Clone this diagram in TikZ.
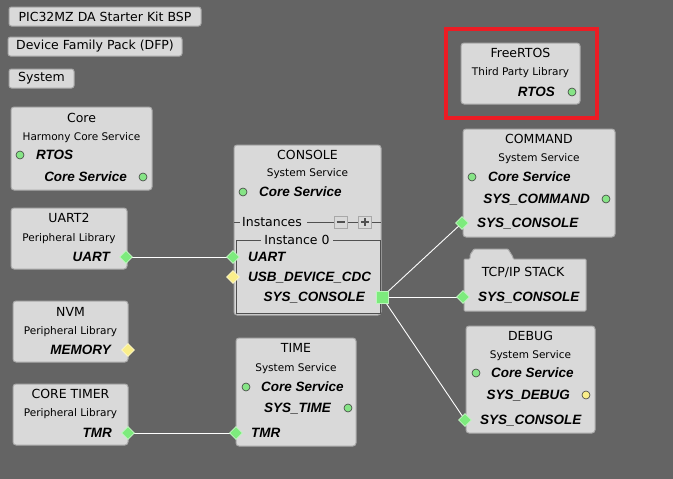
\documentclass[tikz,border=0pt]{standalone}
\usepackage{fontspec}
\setmainfont{DejaVu Sans}
\newfontfamily\portfont{Liberation Sans}
\usetikzlibrary{shapes.geometric}
\pgfdeclarelayer{back}
\pgfdeclarelayer{wires}
\pgfsetlayers{back,wires,main}
\definecolor{bgc}{HTML}{646464}
\definecolor{boxfill}{HTML}{D9D9D9}
\definecolor{boxline}{HTML}{A8A8A8}
\definecolor{pgreen}{HTML}{7DEB7D}
\definecolor{dgreen}{HTML}{86E486}
\definecolor{pyellow}{HTML}{FAEE8A}
\definecolor{redframe}{HTML}{EC1C24}
\definecolor{innerline}{HTML}{505050}
\tikzset{
  box/.style={draw=boxline, fill=boxfill, rounded corners=3pt, line width=1pt, inner sep=0pt},
  btn/.style={draw=boxline, fill=boxfill, rounded corners=2.5pt, line width=1pt, inner sep=0pt,
              font=\fontsize{12.5}{14}\selectfont},
  ttl/.style={font=\fontsize{12.5}{14}\selectfont, inner sep=0pt, text height=9.1pt, text depth=0pt},
  sub/.style={font=\fontsize{10.5}{12}\selectfont, inner sep=0pt, text height=7.6pt, text depth=0pt},
  port/.style={font=\portfont\bfseries\itshape\fontsize{13.5}{15}\selectfont, inner sep=0pt, text height=9.7pt, text depth=0pt},
  gdia/.style={diamond, minimum width=13pt, minimum height=13pt, inner sep=0pt, fill=pgreen, draw=white!55!pgreen, line width=0.6pt},
  ydia/.style={diamond, minimum width=13pt, minimum height=13pt, inner sep=0pt, fill=pyellow, draw=white!55!pyellow, line width=0.6pt},
  gdot/.style={circle, minimum size=8pt, inner sep=0pt, fill=dgreen, draw=black!75, line width=0.6pt},
  ydot/.style={circle, minimum size=8pt, inner sep=0pt, fill=pyellow, draw=black!75, line width=0.6pt},
  wire/.style={draw=white, line width=0.9pt},
}
\newcommand\mybox[5]{\node[box, minimum width={#4-#2}, minimum height={#5-#3}] (#1) at ({(#2+#4)/2},{(#3+#5)/2}) {};}
\begin{document}
\begin{tikzpicture}[x=1pt,y=-1pt]
\begin{pgfonlayer}{back}
\fill[bgc] (0,0) rectangle (673,479);
\end{pgfonlayer}
\useasboundingbox (0,0) rectangle (673,479);

% top buttons
\node[btn, minimum width=192, minimum height=19] (bsp) at (105,16.5) {PIC32MZ DA Starter Kit BSP};
\node[btn, minimum width=174, minimum height=19] (dfp) at (95,46.5) {Device Family Pack (DFP)};
\node[btn, minimum width=65, minimum height=19] (sys) at (41.5,78.5) {System};

% Core
\mybox{core}{11}{107}{152}{190}
\node[ttl] (coret) at (81.5,118) {Core};
\node[sub] (cores) at (81.5,137) {Harmony Core Service};
\node[gdot] (corertosd) at (20,155) {};
\node[port, anchor=west] (corertos) at (36,155) {RTOS};
\node[port, anchor=east] (corecs) at (127,177) {Core Service};
\node[gdot] (corecsd) at (143,177) {};

% UART2
\mybox{uart}{11}{208}{127}{269}
\node[ttl] (uartt) at (69,218) {UART2};
\node[sub] (uarts) at (69,238) {Peripheral Library};
\node[port, anchor=east] (uartl) at (110,257) {UART};
\node[gdia] (uartp) at (126,257) {};

% NVM
\mybox{nvm}{13}{301}{128}{362}
\node[ttl] (nvmt) at (70.5,312) {NVM};
\node[sub] (nvms) at (70.5,331) {Peripheral Library};
\node[port, anchor=east] (nvml) at (111,350) {MEMORY};
\node[ydia] (nvmp) at (128,350) {};

% CORE TIMER
\mybox{tmr}{13}{384}{128}{445}
\node[ttl] (tmrt) at (70.5,394) {CORE TIMER};
\node[sub] (tmrs) at (70.5,413) {Peripheral Library};
\node[port, anchor=east] (tmrl) at (112,433) {TMR};
\node[gdia] (tmrp) at (128,433) {};

% CONSOLE
\mybox{con}{234}{145}{381}{315}
\node[ttl] (cont) at (307.5,155) {CONSOLE};
\node[sub] (cons) at (307.5,173) {System Service};
\node[gdot] (concsd) at (243,192) {};
\node[port, anchor=west] (concs) at (259,192) {Core Service};
\draw[innerline, line width=0.8pt] (234,222) -- (240,222) (307,222) -- (334,222) (347,222) -- (358,222) (372,222) -- (381,222);
\node[ttl, anchor=west] (coninst) at (242,222) {Instances};
\node[draw=boxline, fill=boxfill, minimum width=13, minimum height=12, inner sep=0pt, line width=0.8pt] (conminus) at (340.5,222) {};
\draw[innerline, line width=1.6pt] (336.5,222) -- (344.5,222);
\node[draw=boxline, fill=boxfill, minimum width=13, minimum height=12, inner sep=0pt, line width=0.8pt] (conplus) at (365,222) {};
\draw[innerline, line width=1.6pt] (361,222) -- (369,222) (365,218) -- (365,226);
\draw[innerline, line width=0.8pt] (236,240) -- (236,313) -- (380,313) -- (380,240) -- cycle;
\node[ttl, fill=boxfill, inner sep=3pt] (coninst0) at (297,240) {Instance 0};
\node[port, anchor=west] (conuartl) at (248,257) {UART};
\node[port, anchor=west] (conusbl) at (248,277) {USB\_DEVICE\_CDC};
\node[port, anchor=east] (consysl) at (365,297) {SYS\_CONSOLE};
\node[gdia] (conuart) at (233,257) {};
\node[ydia] (conusb) at (233,277) {};
\node[draw=white!50!pgreen, fill=pgreen, minimum size=12pt, inner sep=0pt, line width=0.8pt] (consq) at (382,297) {};

% TIME
\mybox{time}{236}{338}{356}{446}
\node[ttl] (timet) at (296,348) {TIME};
\node[sub] (times) at (296,368) {System Service};
\node[gdot] (timecsd) at (246,387) {};
\node[port, anchor=west] (timecs) at (261,387) {Core Service};
\node[port, anchor=east] (timest) at (331,408) {SYS\_TIME};
\node[gdot] (timestd) at (348,408) {};
\node[port, anchor=west] (timetmrl) at (251,433) {TMR};
\node[gdia] (timetmr) at (236,433) {};

% FreeRTOS
\draw[redframe, line width=4pt] (446,29) rectangle (597,118);
\mybox{rtos}{461}{43}{580}{104}
\node[ttl] (rtost) at (520.5,53) {FreeRTOS};
\node[sub] (rtoss) at (520.5,72) {Third Party Library};
\node[port, anchor=east] (rtosl) at (555,92) {RTOS};
\node[gdot] (rtosd) at (572,92) {};

% COMMAND
\mybox{cmd}{463}{129}{615}{237}
\node[ttl] (cmdt) at (539,139) {COMMAND};
\node[sub] (cmds) at (539,158) {System Service};
\node[gdot] (cmdcsd) at (472,177) {};
\node[port, anchor=west] (cmdcs) at (488,177) {Core Service};
\node[port, anchor=east] (cmdsc) at (590,199) {SYS\_COMMAND};
\node[gdot] (cmdscd) at (606,199) {};
\node[port, anchor=west] (cmdconl) at (477,223) {SYS\_CONSOLE};
\node[gdia] (cmdcon) at (462,223) {};

% TCP/IP STACK
\draw[draw=boxline, fill=boxfill, line width=1pt, rounded corners=1pt]
  (464,311) -- (464,259) -- (470,259) -- (470,255) -- (474,249) -- (508,249) -- (513,257) -- (513,259) -- (586,259) -- (586,311) -- cycle;
\node[ttl] (tcpt) at (523,272) {TCP/IP STACK};
\node[port, anchor=west] (tcpconl) at (478,297) {SYS\_CONSOLE};
\node[gdia] (tcpcon) at (463,297) {};

% DEBUG
\mybox{dbg}{466}{326}{595}{433}
\node[ttl] (dbgt) at (530.5,336) {DEBUG};
\node[sub] (dbgs) at (530.5,355) {System Service};
\node[gdot] (dbgcsd) at (476,373) {};
\node[port, anchor=west] (dbgcs) at (491,373) {Core Service};
\node[port, anchor=east] (dbgsd) at (570,395) {SYS\_DEBUG};
\node[ydot] (dbgsdd) at (586,395) {};
\node[port, anchor=west] (dbgconl) at (480,420) {SYS\_CONSOLE};
\node[gdia] (dbgcon) at (465,420) {};

% connectors
\begin{pgfonlayer}{wires}
\draw[wire] (uartp.center) -- (conuart.center);
\draw[wire] (tmrp.center) -- (timetmr.center);
\draw[wire] (consq.center) -- (cmdcon.center);
\draw[wire] (consq.center) -- (tcpcon.center);
\draw[wire] (consq.center) -- (dbgcon.center);
\end{pgfonlayer}
\end{tikzpicture}
\end{document}
